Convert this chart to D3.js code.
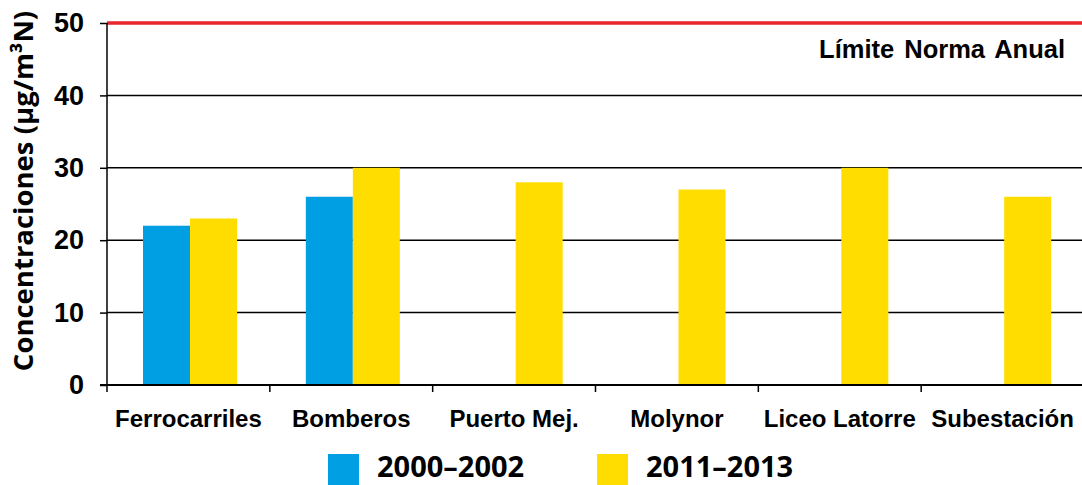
<!DOCTYPE html>
<html>
<head>
<meta charset="utf-8">
<script src="https://cdn.jsdelivr.net/npm/d3@7"></script>
<style>
  body { margin: 0; background: #fff; }
  svg { display: block; }
</style>
</head>
<body>
<div id="chart"></div>
<script>
// Chart data
const stations = ['Ferrocarriles', 'Bomberos', 'Puerto Mej.', 'Molynor', 'Liceo Latorre', 'Subestación'];
const series = ['2000–2002', '2011–2013'];
const values2000 = [22, 26, null, null, null, null];
const values2011 = [23, 30, 28, 27, 30, 26];
const yTicks = [0, 10, 20, 30, 40, 50];
const limitValue = 50;
const limitLabel = 'Límite Norma Anual';
const yTitle = 'Concentraciones (µg/m³N)';
const colors = ['#009FE3', '#FFDD00'];

// Sizes
const totalWidth = 1082;
const totalHeight = 485;
const margin = { top: 23, right: -2, bottom: 100, left: 107 };
const width = totalWidth - margin.left - margin.right;
const height = totalHeight - margin.top - margin.bottom;

const svg = d3.select('#chart')
  .append('svg')
  .attr('width', totalWidth)
  .attr('height', totalHeight);

const g = svg.append('g')
  .attr('transform', `translate(${margin.left},${margin.top})`);

// scales
const x = d3.scaleBand()
  .domain(stations)
  .range([0, width])
  .paddingInner(0)
  .paddingOuter(0);

const xSub = d3.scaleBand()
  .domain(series)
  .range([36, 36 + 94]);

const y = d3.scaleLinear()
  .domain([0, 50])
  .range([height, 0]);

// grid lines
g.append('g')
  .selectAll('line')
  .data(yTicks.filter((d) => d > 0 && d < limitValue))
  .join('line')
  .attr('x1', 0)
  .attr('x2', width)
  .attr('y1', (d) => y(d))
  .attr('y2', (d) => y(d))
  .attr('stroke', '#000')
  .attr('stroke-width', 1.5);

// bars
const rows = stations.map((s, i) => ({ station: s, vals: [values2000[i], values2011[i]] }));
g.append('g')
  .selectAll('g')
  .data(rows)
  .join('g')
  .attr('transform', (d) => `translate(${x(d.station)},0)`)
  .selectAll('rect')
  .data((d) => d.vals.map((v, k) => ({ key: series[k], value: v, k })).filter((e) => e.value != null))
  .join('rect')
  .attr('x', (d) => xSub(d.key))
  .attr('width', xSub.bandwidth())
  .attr('y', (d) => y(d.value))
  .attr('height', (d) => height - y(d.value))
  .attr('fill', (d) => colors[d.k]);

// limit line
g.append('line')
  .attr('x1', 0)
  .attr('x2', width)
  .attr('y1', y(limitValue))
  .attr('y2', y(limitValue))
  .attr('stroke', '#E8272B')
  .attr('stroke-width', 3.5);

g.append('text')
  .attr('x', 958)
  .attr('y', y(limitValue) + 35)
  .attr('text-anchor', 'end')
  .attr('font-family', 'Liberation Sans, Arial, sans-serif')
  .attr('font-weight', 'bold')
  .attr('font-size', 25.5)
  .attr('word-spacing', 3)
  .text(limitLabel);

// y-axis
const yAxis = g.append('g')
  .call(d3.axisLeft(y).tickValues(yTicks).tickSize(7).tickPadding(16));
yAxis.select('.domain').attr('stroke', '#000').attr('stroke-width', 1.5).attr('d', `M0,${height}V0`);
yAxis.selectAll('.tick line').attr('stroke', '#000').attr('stroke-width', 1.5);
yAxis.selectAll('.tick text')
  .attr('font-family', 'Liberation Sans, Arial, sans-serif')
  .attr('font-weight', 'bold')
  .attr('font-size', 27)
  .attr('fill', '#000');

// x-axis
const xAxis = g.append('g')
  .attr('transform', `translate(0,${height})`)
  .call(d3.axisBottom(x).tickSize(0).tickPadding(25));
xAxis.select('.domain').remove();
xAxis.selectAll('.tick text')
  .attr('font-family', 'Liberation Sans, Arial, sans-serif')
  .attr('font-weight', 'bold')
  .attr('font-size', 24)
  .attr('fill', '#000');

g.append('line')
  .attr('x1', -7)
  .attr('x2', width)
  .attr('y1', height)
  .attr('y2', height)
  .attr('stroke', '#000')
  .attr('stroke-width', 2);

g.append('g')
  .selectAll('line')
  .data(stations)
  .join('line')
  .attr('x1', (d) => x(d))
  .attr('x2', (d) => x(d))
  .attr('y1', height)
  .attr('y2', height + 7)
  .attr('stroke', '#000')
  .attr('stroke-width', 1.5);

// y title
svg.append('text')
  .attr('transform', `translate(33,191) rotate(-90)`)
  .attr('text-anchor', 'middle')
  .attr('font-family', 'Open Sans, sans-serif')
  .attr('font-weight', 'bold')
  .attr('font-size', 27.5)
  .text(yTitle);

// legend
const legendX = [328, 597];
const legend = svg.append('g')
  .selectAll('g')
  .data(series)
  .join('g')
  .attr('transform', (d, i) => `translate(${legendX[i]},454)`);
legend.append('rect')
  .attr('width', 31)
  .attr('height', 31)
  .attr('fill', (d, i) => colors[i]);
legend.append('text')
  .attr('x', 49)
  .attr('y', 23)
  .attr('font-family', 'Open Sans, sans-serif')
  .attr('font-weight', 'bold')
  .attr('font-size', 29)
  .attr('fill', '#000')
  .text((d) => d);
</script>
</body>
</html>
